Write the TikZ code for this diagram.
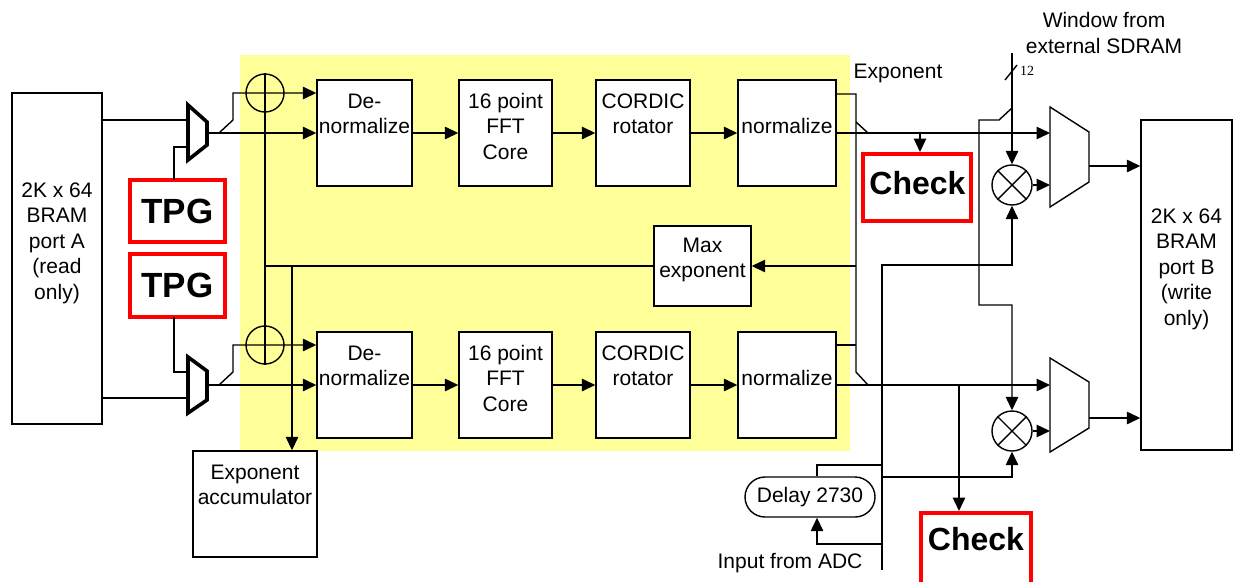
\documentclass[tikz,border=0pt]{standalone}
\usepackage{fontspec}
\setmainfont{Liberation Sans}
\newfontfamily\smallserif{Liberation Serif}
\usetikzlibrary{arrows.meta,shapes.misc}
\definecolor{yel}{HTML}{FFFF99}
\begin{document}
\begin{tikzpicture}[x=1pt,y=-1pt,line width=1.4pt,
  blk/.style={draw,fill=white,rectangle,inner sep=0pt},
  txt/.style={align=center,font=\fontsize{21}{25.5}\selectfont,inner sep=0pt},
  redbox/.style={draw=red,line width=4pt,fill=white,rectangle,inner sep=0pt},
  tpgtxt/.style={font=\fontsize{35}{40}\bfseries\selectfont},
  chktxt/.style={font=\fontsize{32}{38}\bfseries\selectfont},
  arr/.style={-{Triangle[length=13.5pt,width=12.5pt]}},
  muxthick/.style={line width=3.6pt,line join=miter},
  plus/.style={circle,draw,minimum size=38pt,inner sep=0pt},
  mult/.style={circle,draw,minimum size=40pt,inner sep=0pt},
  delaybox/.style={rounded rectangle,draw,fill=white,minimum width=130pt,minimum height=40pt,inner sep=0pt,font=\fontsize{21}{25.5}\selectfont}]
\clip (0,0) rectangle (1236,581);
\fill[yel] (240,55) rectangle (850,451);

% BRAM blocks
\node[blk,minimum width=90pt,minimum height=331pt] (bramA) at (57,258.5) {};
\node[txt] (bramAt) at (57,243) {2K x 64\\BRAM\\port A\\(read\\only)};
\node[blk,minimum width=91pt,minimum height=330pt] (bramB) at (1186.5,285) {};
\node[txt] (bramBt) at (1186.5,269) {2K x 64\\BRAM\\port B\\(write\\only)};

% TPG
\node[redbox,minimum width=95.5pt,minimum height=62pt,tpgtxt] (tpg1) at (177.25,211) {TPG};
\node[redbox,minimum width=95.5pt,minimum height=63pt,tpgtxt] (tpg2) at (177.25,285.5) {TPG};

% processing rows
\node[blk,minimum width=95pt,minimum height=106pt] (dn1) at (364.5,133) {};
\node[blk,minimum width=93pt,minimum height=106pt] (ff1) at (505.5,133) {};
\node[blk,minimum width=94pt,minimum height=106pt] (co1) at (643,133) {};
\node[blk,minimum width=98pt,minimum height=106pt] (nm1) at (787,133) {};
\node[blk,minimum width=95pt,minimum height=106pt] (dn2) at (364.5,385) {};
\node[blk,minimum width=93pt,minimum height=106pt] (ff2) at (505.5,385) {};
\node[blk,minimum width=94pt,minimum height=106pt] (co2) at (643,385) {};
\node[blk,minimum width=98pt,minimum height=106pt] (nm2) at (787,385) {};
\node[txt] (dn1t) at (364.5,114) {De-\\normalize};
\node[txt] (ff1t) at (505.5,126) {16 point\\FFT\\Core};
\node[txt] (co1t) at (643,114) {CORDIC\\rotator};
\node[txt] (nm1t) at (787,126) {normalize};
\node[txt] (dn2t) at (364.5,366) {De-\\normalize};
\node[txt] (ff2t) at (505.5,378) {16 point\\FFT\\Core};
\node[txt] (co2t) at (643,366) {CORDIC\\rotator};
\node[txt] (nm2t) at (787,378) {normalize};

\draw[arr] (dn1.east) -- (ff1.west);
\draw[arr] (ff1.east) -- (co1.west);
\draw[arr] (co1.east) -- (nm1.west);
\draw[arr] (dn2.east) -- (ff2.west);
\draw[arr] (ff2.east) -- (co2.west);
\draw[arr] (co2.east) -- (nm2.west);

% Max exponent and accumulator
\node[blk,minimum width=97pt,minimum height=80pt] (mx) at (702.5,266) {};
\node[txt] (mxt) at (702.5,260) {Max\\exponent};
\node[blk,minimum width=124pt,minimum height=106pt] (acc) at (255,504) {};
\node[txt] (acct) at (255,485) {Exponent\\accumulator};

% left muxes
\draw[muxthick] (188,105) -- (207,122) -- (207,145) -- (188,160) -- cycle;
\draw[muxthick] (188,357) -- (207,371) -- (207,400) -- (188,413) -- cycle;
\coordinate (mA1a) at (188,120);
\coordinate (mA1b) at (188,147);
\coordinate (mA1o) at (207,133);
\coordinate (sA1) at (219,133);
\coordinate (dA1) at (233,120);
\coordinate (uA1) at (233,93);
\coordinate (mA2a) at (188,372);
\coordinate (mA2b) at (188,398);
\coordinate (mA2o) at (207,385);
\coordinate (sA2) at (219,385);
\coordinate (dA2) at (233,372);
\coordinate (uA2) at (233,345);
\coordinate (t1) at (174,180);
\coordinate (t2) at (174,317);

\draw (bramA.east |- mA1a) -- (mA1a);
\draw (t1) |- (mA1b);
\draw (bramA.east |- mA2b) -- (mA2b);
\draw (t2) |- (mA2a);

\node[plus] (p1) at (265,93) {};
\node[plus] (p2) at (265,345) {};
\draw[arr] (sA1) -- (dA1) -- (uA1) -- (uA1 -| dn1.west);
\draw[arr] (mA1o) -- (mA1o -| dn1.west);
\draw[arr] (sA2) -- (dA2) -- (uA2) -- (uA2 -| dn2.west);
\draw[arr] (mA2o) -- (mA2o -| dn2.west);
\draw (p1.north) -- (p2.south);
\draw (mx.west) -- (mx.west -| p1.center);
\coordinate (accj) at (292,266);
\draw[arr] (accj) -- (accj |- acc.north);

% right side
\coordinate (e1) at (856,94);
\coordinate (e1d) at (856,122);
\coordinate (e2) at (856,345);
\coordinate (e2d) at (856,372);
\coordinate (j1) at (868,133);
\coordinate (j2) at (868,385);
\coordinate (emx) at (856,266);
\draw (e1 -| nm1.east) -- (e1) -- (e2d) -- (j2);
\draw (e1d) -- (j1);
\draw (e2 -| nm2.east) -- (e2);
\draw[arr] (emx) -- (mx.east);

\node[redbox,minimum width=108pt,minimum height=67pt] (chk1) at (917,187.5) {};
\node[chktxt] (chk1t) at (917.5,183) {Check};
\node[redbox,minimum width=110pt,minimum height=75pt,anchor=north] (chk2) at (976,511) {};
\node[chktxt] (chk2t) at (976,539) {Check};

\coordinate (muxB1a) at (1050,133);
\coordinate (muxB1b) at (1050,185);
\coordinate (muxB2a) at (1050,385);
\coordinate (muxB2b) at (1050,431);
\coordinate (mB1o) at (1089,166);
\coordinate (mB2o) at (1089,418);
\draw (1050,107) -- (1089,132) -- (1089,182) -- (1050,207) -- cycle;
\draw (1050,358) -- (1089,382) -- (1089,428) -- (1050,452) -- cycle;
\draw[arr] (nm1.east) -- (muxB1a);
\draw[arr] (nm2.east) -- (muxB2a);
\coordinate (c1) at (920,133);
\coordinate (c2) at (959,385);
\draw[arr] (c1) -- (c1 |- chk1.north);
\draw[arr] (c2) -- (c2 |- chk2.north);

\node[mult] (m1) at (1012,185) {};
\node[mult] (m2) at (1012,431) {};
\draw (m1.north west) -- (m1.south east) (m1.north east) -- (m1.south west);
\draw (m2.north west) -- (m2.south east) (m2.north east) -- (m2.south west);
\draw[arr] (m1.east) -- (muxB1b);
\draw[arr] (m2.east) -- (muxB2b);
\draw[arr] (mB1o) -- (mB1o -| bramB.west);
\draw[arr] (mB2o) -- (mB2o -| bramB.west);

% window from SDRAM
\coordinate (wtop) at (1012,53);
\draw[arr] (wtop) -- (m1.north);
\draw (1005,80) -- (1017,65);
\node[font=\smallserif\fontsize{14}{16}\selectfont,inner sep=0pt] (n12) at (1027,71) {12};
\coordinate (w1) at (1012,108);
\coordinate (w2) at (999,120);
\coordinate (w3) at (979,120);
\coordinate (w4) at (979,305);
\coordinate (w5) at (1012,305);
\draw[arr] (w1) -- (w2) -- (w3) -- (w4) -- (w5) -- (m2.north);

% ADC input and delay
\node[delaybox] (dl) at (810,497) {Delay 2730};
\coordinate (adc) at (882,570);
\coordinate (a1) at (882,265);
\coordinate (a2) at (1012,265);
\coordinate (a3) at (882,477);
\coordinate (a4) at (1012,477);
\coordinate (a5) at (882,544);
\coordinate (dIn) at (817,544);
\coordinate (dOut) at (817,465);
\coordinate (a6) at (882,465);
\draw[arr] (adc) -- (a1) -- (a2) -- (m1.south);
\draw[arr] (a3) -- (a4) -- (m2.south);
\draw[arr] (a5) -- (dIn) -- (dIn |- dl.south);
\draw (dOut |- dl.north) -- (dOut) -- (a6);

% labels
\node[txt] (lexp) at (898,73) {Exponent};
\node[txt] (ladc) at (790,563) {Input from ADC};
\node[txt] (lwin) at (1104,33) {Window from\\external SDRAM};
\end{tikzpicture}
\end{document}
